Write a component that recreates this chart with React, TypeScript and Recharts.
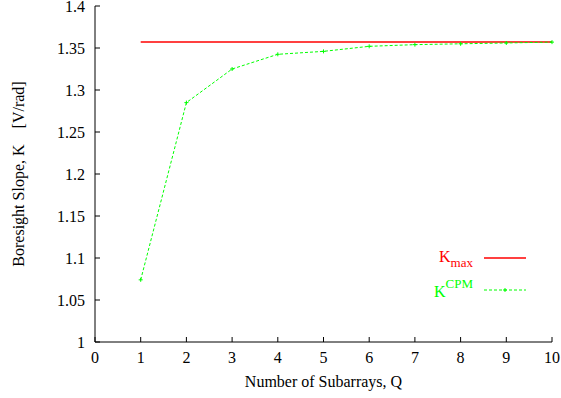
import React from 'react';
import { LineChart, Line, XAxis, YAxis, Legend } from 'recharts';

const subarrays = [1, 2, 3, 4, 5, 6, 7, 8, 9, 10];
const kMaxValues = [1.357, 1.357, 1.357, 1.357, 1.357, 1.357, 1.357, 1.357, 1.357, 1.357];
const kCpmValues = [1.074, 1.285, 1.325, 1.3425, 1.346, 1.352, 1.354, 1.355, 1.356, 1.357];
const xTicks = [0, 1, 2, 3, 4, 5, 6, 7, 8, 9, 10];
const yTicks = [1, 1.05, 1.1, 1.15, 1.2, 1.25, 1.3, 1.35, 1.4];
const xLabel = 'Number of Subarrays, Q';
const yLabel = 'Boresight Slope, K\u00a0\u00a0\u00a0\u00a0[V/rad]';

const data = subarrays.map((q, i) => ({ q, kmax: kMaxValues[i], kcpm: kCpmValues[i] }));

const FONT = '"Liberation Serif", "Times New Roman", serif';
const RED = '#ff0000';
const GREEN = '#00ff00';

const fmt = (v: number) => String(Number(v.toFixed(2)));

const LeftTick = (p: any) => (
  <g>
    <line x1={p.x} x2={p.x + 5} y1={p.y} y2={p.y} stroke="#000" />
    <text x={p.x - 10} y={p.y} dy="0.35em" textAnchor="end" fontFamily={FONT} fontSize={16} fill="#000">
      {fmt(p.payload.value)}
    </text>
  </g>
);
const RightTick = (p: any) => (
  <line x1={p.x - 5} x2={p.x} y1={p.y} y2={p.y} stroke="#000" />
);
const BottomTick = (p: any) => (
  <g>
    <line x1={p.x} x2={p.x} y1={p.y - 5} y2={p.y} stroke="#000" />
    <text x={p.x} y={p.y + 21} textAnchor="middle" fontFamily={FONT} fontSize={16} fill="#000">
      {fmt(p.payload.value)}
    </text>
  </g>
);
const TopTick = (p: any) => (
  <line x1={p.x} x2={p.x} y1={p.y} y2={p.y + 5} stroke="#000" />
);

const PlusDot = (p: any) => {
  const { cx, cy } = p;
  if (cx == null || cy == null) return null;
  return (
    <g key={p.key}>
      <line x1={cx - 2} x2={cx + 2} y1={cy} y2={cy} stroke={GREEN} />
      <line x1={cx} x2={cx} y1={cy - 2} y2={cy + 2} stroke={GREEN} />
    </g>
  );
};

const LegendContent = () => (
  <svg width={140} height={70} style={{ display: 'block' }}>
    <text x={73} y={22} textAnchor="end" fontFamily={FONT} fontSize={16} fill={RED}>
      <tspan>K</tspan>
      <tspan dy={5} fontSize={13}>max</tspan>
    </text>
    <line x1={84} x2={126} y1={18} y2={18} stroke={RED} strokeWidth={1.5} />
    <text x={73} y={57} textAnchor="end" fontFamily={FONT} fontSize={16} fill={GREEN}>
      <tspan>K</tspan>
      <tspan dy={-9} fontSize={13}>CPM</tspan>
    </text>
    <line x1={84} x2={126} y1={50} y2={50} stroke={GREEN} strokeDasharray="3 2" />
    <line x1={103} x2={107} y1={50} y2={50} stroke={GREEN} />
    <line x1={105} x2={105} y1={48} y2={52} stroke={GREEN} />
  </svg>
);

const YLabel = (p: any) => {
  const vb = p.viewBox;
  const cx = vb.x + 24;
  const cy = vb.y + vb.height / 2;
  return (
    <text x={cx} y={cy} transform={`rotate(-90 ${cx} ${cy})`} textAnchor="middle" fontFamily={FONT} fontSize={16} fill="#000">
      {yLabel}
    </text>
  );
};

const XLabel = (p: any) => {
  const vb = p.viewBox;
  return (
    <text x={vb.x + vb.width / 2} y={vb.y + 45} textAnchor="middle" fontFamily={FONT} fontSize={16} fill="#000">
      {xLabel}
    </text>
  );
};

export default function App() {
  return (
    <div style={{ position: 'absolute', left: 0, top: 0, background: '#fff' }}>
      <LineChart width={561} height={398} data={data} margin={{ top: 6, right: 9, bottom: 0, left: 0 }}>
        <XAxis
          dataKey="q"
          type="number"
          domain={[0, 10]}
          ticks={xTicks}
          interval={0}
          height={56}
          tickSize={0}
          tickMargin={0}
          tickLine={false}
          tick={BottomTick}
          axisLine={{ stroke: '#000' }}
          label={{ content: XLabel }}
        />
        <XAxis
          xAxisId="top"
          orientation="top"
          type="number"
          domain={[0, 10]}
          ticks={xTicks}
          interval={0}
          height={0}
          tickSize={0}
          tickMargin={0}
          tickLine={false}
          tick={TopTick}
          axisLine={{ stroke: '#000' }}
        />
        <YAxis
          type="number"
          domain={[1, 1.4]}
          ticks={yTicks}
          interval={0}
          width={95}
          tickSize={0}
          tickMargin={0}
          tickLine={false}
          tick={LeftTick}
          axisLine={{ stroke: '#000' }}
          label={{ content: YLabel }}
        />
        <YAxis
          yAxisId="right"
          orientation="right"
          type="number"
          domain={[1, 1.4]}
          ticks={yTicks}
          interval={0}
          width={0}
          tickSize={0}
          tickMargin={0}
          tickLine={false}
          tick={RightTick}
          axisLine={{ stroke: '#000' }}
        />
        <Legend
          layout="horizontal"
          verticalAlign="middle"
          align="center"
          content={LegendContent}
          wrapperStyle={{ position: 'absolute', left: 400, top: 240, width: 140, height: 70 }}
        />
        <Line type="linear" dataKey="kmax" stroke={RED} strokeWidth={1.5} dot={false} isAnimationActive={false} />
        <Line
          type="linear"
          dataKey="kcpm"
          stroke={GREEN}
          strokeWidth={1}
          strokeDasharray="3 2"
          dot={PlusDot}
          isAnimationActive={false}
        />
      </LineChart>
    </div>
  );
}
